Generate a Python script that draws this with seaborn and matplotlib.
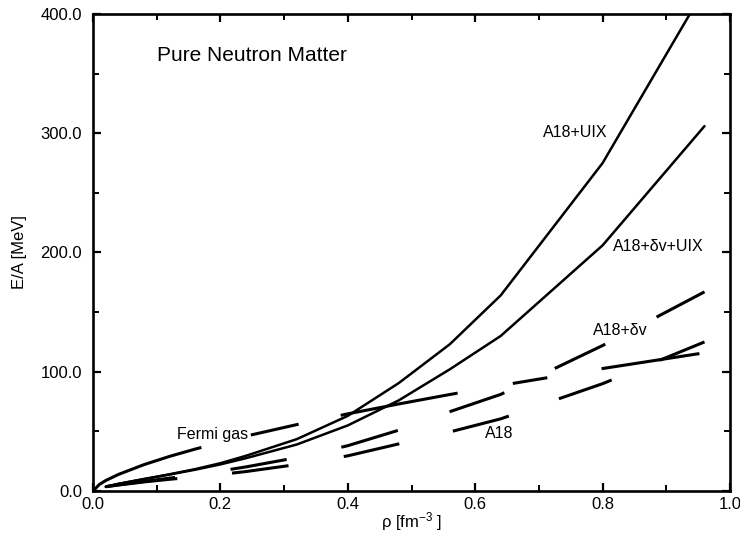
import matplotlib
matplotlib.use("Agg")
import matplotlib.pyplot as plt
import seaborn as sns
import numpy as np
from matplotlib.ticker import MultipleLocator, FormatStrFormatter

# ---- data ----
rho = [0.02, 0.04, 0.08, 0.12, 0.16, 0.20, 0.24, 0.32, 0.40, 0.48, 0.56, 0.64, 0.80, 0.96]
e_a18 = [3.6, 5.0, 7.6, 9.8, 11.8, 13.9, 16.3, 22.2, 29.5, 39.5, 49.5, 60.5, 90.0, 125.0]
e_a18_dv = [3.6, 5.2, 8.0, 10.8, 13.5, 16.8, 20.2, 28.0, 38.0, 51.0, 66.5, 81.0, 122.0, 167.0]
e_a18_uix = [3.6, 6.0, 10.0, 14.0, 18.3, 23.3, 29.5, 43.5, 63.0, 90.5, 123.0, 164.0, 275.0, 421.0]
e_a18_dv_uix = [3.6, 6.0, 10.0, 13.8, 17.8, 22.3, 27.5, 39.0, 55.0, 76.0, 102.0, 130.0, 206.0, 306.0]

rho_fg = [0.0, 0.01, 0.02, 0.04, 0.08, 0.12, 0.16, 0.20, 0.24, 0.32, 0.40, 0.48, 0.56, 0.64, 0.80, 0.96]
e_fg = [0.0, 5.5, 8.8, 13.9, 22.1, 29.0, 35.1, 40.7, 46.0, 55.7, 64.7, 73.0, 80.9, 88.5, 102.7, 115.9]

x_ticks = [0.0, 0.2, 0.4, 0.6, 0.8, 1.0]
y_ticks = [0.0, 100.0, 200.0, 300.0, 400.0]

sns.set_theme(style="white")
plt.rcParams["font.family"] = ["Liberation Sans", "DejaVu Sans"]
plt.rcParams["mathtext.default"] = "regular"
plt.rcParams["lines.scale_dashes"] = False
plt.rcParams["text.color"] = "black"
plt.rcParams["axes.labelcolor"] = "black"
plt.rcParams["xtick.color"] = "black"
plt.rcParams["ytick.color"] = "black"

fig = plt.figure(figsize=(7.4, 5.4), dpi=100)
ax = fig.add_axes([93 / 740, 49 / 540, 637 / 740, 477 / 540])

def px(seq):
    return [v * 0.72 for v in seq]

# solid curves
sns.lineplot(x=rho, y=e_a18_uix, ax=ax, color="black", lw=1.8, sort=False, estimator=None)
sns.lineplot(x=rho, y=e_a18_dv_uix, ax=ax, color="black", lw=1.8, sort=False, estimator=None)

# dashed curves
sns.lineplot(x=rho, y=e_a18, ax=ax, color="black", lw=2.2, sort=False, estimator=None)
ax.lines[-1].set_dashes(px([72, 55, 57, 56, 57, 55, 58, 53, 56, 52, 60, 50]))
sns.lineplot(x=rho, y=e_a18_dv, ax=ax, color="black", lw=2.2, sort=False, estimator=None)
ax.lines[-1].set_dashes(px([70, 56, 57, 56, 59, 55, 58, 56, 56, 58, 60, 50]))
sns.lineplot(x=rho_fg, y=e_fg, ax=ax, color="black", lw=2.2, sort=False, estimator=None)
ax.lines[-1].set_dashes(px([118, 51, 49, 43, 119, 56, 35, 55, 99, 60]))
for ln in ax.lines:
    ln.set_dash_capstyle("butt")

ax.set_xlim(0, 1.0)
ax.set_ylim(0, 400)
ax.set_xticks(x_ticks)
ax.set_yticks(y_ticks)
ax.xaxis.set_minor_locator(MultipleLocator(0.1))
ax.yaxis.set_minor_locator(MultipleLocator(50))
ax.xaxis.set_major_formatter(FormatStrFormatter("%.1f"))
ax.yaxis.set_major_formatter(FormatStrFormatter("%.1f"))
ax.tick_params(which="both", direction="in", top=True, right=True, bottom=True, left=True,
               colors="black", labelcolor="black", labelsize=12)
ax.tick_params(which="major", length=6, width=1.6)
ax.tick_params(which="minor", length=4, width=1.4)
ax.tick_params(axis="x", pad=4)
ax.tick_params(axis="y", pad=8)
for s in ax.spines.values():
    s.set_linewidth(1.9)
    s.set_color("black")

ax.set_xlabel("ρ [fm$^{-3}$ ]", fontsize=12, color="black")
ax.set_ylabel("E/A [MeV]", fontsize=12, color="black")
ax.xaxis.set_label_coords(0.5, -0.040)
ax.yaxis.set_label_coords(-0.104, 0.5)

ax.text(0.1005, 365.6, "Pure Neutron Matter", fontsize=15, ha="left", va="center", color="black")
ax.text(0.808, 301, "A18+UIX", fontsize=11.5, ha="right", va="center", color="black")
ax.text(0.816, 205, "A18+δv+UIX", fontsize=11.5, ha="left", va="center", color="black")
ax.text(0.785, 135, "A18+δv", fontsize=11.5, ha="left", va="center", color="black")
ax.text(0.615, 48.6, "A18", fontsize=11.5, ha="left", va="center", color="black")
ax.text(0.243, 47, "Fermi gas", fontsize=11.5, ha="right", va="center", color="black")

fig.savefig("out.png", dpi=100, facecolor="white")
